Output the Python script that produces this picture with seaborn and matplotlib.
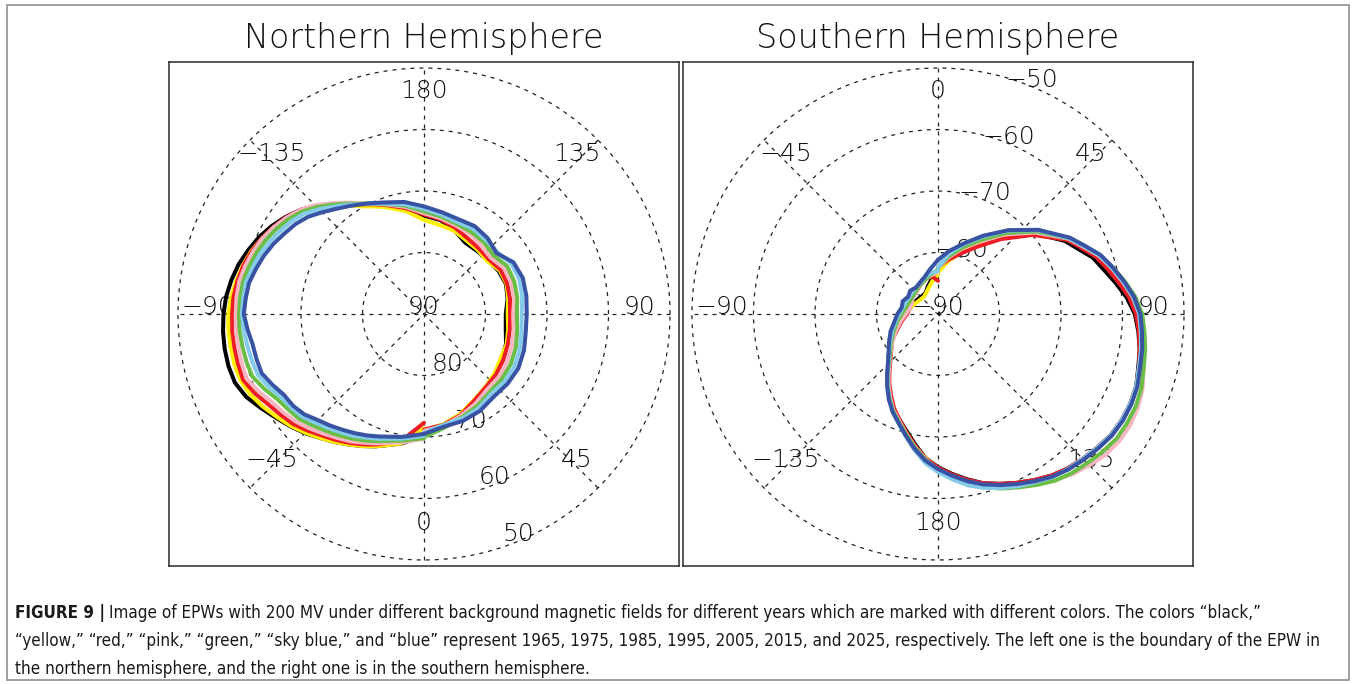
import os
import numpy as np
import pandas as pd
import matplotlib
matplotlib.use("Agg")
import matplotlib.pyplot as plt
from matplotlib import font_manager as fm
from matplotlib.patches import Rectangle
import seaborn as sns

sns.set_theme(style="white")
plt.rcParams["font.family"] = ["DejaVu Sans"]

W, H = 1356, 684

# ---------------------------------------------------------------- data
years = ["1965", "1975", "1985", "1995", "2005", "2015", "2025"]
year_colors = ["#000000", "#FFEE00", "#EE1C25", "#F7B6C2",
               "#6ABD45", "#84CBEB", "#3853A4"]

# magnetic longitude of each boundary sample (deg)
north_lon = list(range(0, 200, 10)) + list(range(200, 345, 5)) + [350, 360]
south_lon = list(range(0, 60, 10)) + list(range(60, 225, 5)) + list(range(230, 361, 10))

# Northern hemisphere: colatitude of the EPW boundary (90 - latitude, deg)
north_black = [19.0, 18.3, 17.4, 16.3, 15.6, 15.2, 14.6, 14.2, 13.5, 13.3,
               13.8, 14.2, 14.0, 13.6, 13.4, 13.4, 14.5, 15.5, 16.0, 17.4,
               18.8, 19.6, 20.5, 21.8, 23.3, 24.8, 26.3, 27.5, 28.6, 29.6,
               30.4, 31.2, 31.8, 32.3, 32.6, 32.8, 32.9, 32.9, 32.7, 31.9,
               30.6, 29.4, 28.4, 27.4, 26.3, 25.4, 24.5, 23.7, 22.9,
               21.4, 19.8]
north_yellow = [18.9, 18.2, 17.3, 16.2, 15.5, 15.0, 14.4, 14.3, 13.9, 13.6,
                13.9, 14.3, 14.2, 13.4, 13.6, 13.8, 14.4, 14.7, 15.3, 17.0,
                18.5, 19.3, 20.2, 21.6, 23.2, 24.7, 26.1, 27.2, 28.2, 29.1,
                29.9, 30.5, 31.0, 31.5, 31.8, 31.9, 31.9, 31.9, 31.7, 31.1,
                30.2, 29.2, 28.3, 27.3, 26.3, 25.4, 24.5, 23.7, 22.9,
                21.4, 18.6]
north_red = [18.8, 18.3, 17.5, 16.3, 15.6, 15.3, 14.9, 14.5, 14.2, 14.0,
             14.2, 14.4, 14.4, 13.8, 13.9, 14.2, 14.9, 15.6, 16.2, 17.5,
             18.9, 19.7, 20.6, 21.9, 23.4, 24.9, 26.3, 27.4, 28.3, 29.1,
             29.8, 30.4, 30.8, 31.1, 31.2, 31.3, 31.3, 31.3, 31.3, 30.4,
             29.3, 28.5, 27.8, 26.8, 25.8, 25.0, 24.2, 23.4, 22.6,
             20.9, 17.7]
north_pink = [19.0, 18.5, 17.6, 16.8, 16.0, 15.9, 15.6, 15.2, 14.8, 14.5,
              14.9, 15.1, 15.0, 14.2, 14.5, 15.0, 15.3, 15.8, 16.4, 17.7,
              19.0, 19.9, 20.8, 22.1, 23.5, 25.0, 26.3, 27.3, 28.2, 29.0,
              29.6, 30.1, 30.5, 30.6, 30.6, 30.7, 30.7, 30.7, 30.7, 29.7,
              28.6, 27.9, 27.2, 26.3, 25.4, 24.6, 23.9, 23.1, 22.4,
              21.2, 20.3]
north_green = [20.0, 18.8, 17.9, 17.3, 16.6, 16.5, 16.3, 15.9, 15.4, 15.1,
               15.4, 15.6, 15.6, 14.8, 15.2, 15.4, 15.6, 16.1, 16.7, 17.9,
               19.1, 19.9, 20.7, 21.9, 23.2, 24.6, 25.9, 26.9, 27.7, 28.4,
               29.0, 29.5, 29.9, 30.0, 30.1, 30.1, 30.0, 29.9, 29.7, 28.7,
               27.6, 27.0, 26.5, 25.6, 24.8, 24.1, 23.4, 22.7, 22.0,
               20.9, 20.2]
north_skyblue = [19.3, 18.3, 18.1, 17.7, 17.0, 17.1, 17.0, 16.6, 16.1, 15.9,
                 16.2, 16.5, 16.4, 15.6, 15.7, 16.0, 15.9, 16.4, 17.1, 18.1,
                 19.1, 19.8, 20.6, 21.7, 22.8, 24.1, 25.4, 26.3, 27.0, 27.7,
                 28.4, 28.9, 29.4, 29.5, 29.6, 29.4, 29.2, 29.0, 28.8, 27.9,
                 26.9, 26.4, 25.9, 25.0, 24.2, 23.5, 22.9, 22.2, 21.6,
                 20.6, 19.8]
north_blue = [19.5, 18.6, 18.5, 18.2, 17.6, 17.7, 17.7, 17.3, 16.8, 16.7,
              16.9, 17.1, 16.8, 15.4, 16.1, 16.5, 16.4, 16.8, 17.5, 18.5,
              19.3, 19.9, 20.6, 21.4, 22.3, 23.4, 24.6, 25.5, 26.2, 27.0,
              27.7, 28.3, 28.9, 29.1, 29.3, 28.8, 28.3, 28.2, 28.1, 27.2,
              26.3, 26.0, 25.4, 24.4, 23.7, 23.0, 22.4, 21.8, 21.2,
              20.3, 19.5]

# Southern hemisphere: colatitude of the EPW boundary (90 + latitude, deg)
south_black = [7.0, 8.7, 10.8, 13.4, 16.6, 20.4,
               23.8, 25.1, 26.8, 27.9, 29.3, 30.8, 32.0, 32.7, 33.3, 33.7, 34.3,
               34.5, 34.5, 34.3, 33.8, 33.3, 32.8, 32.1, 31.2, 30.3, 29.4, 28.5,
               27.3, 26.1, 24.9, 23.5, 21.5, 19.7, 18.3, 17.1, 15.6, 14.0, 12.5,
               10.5, 8.9, 7.6, 6.5, 5.5, 4.9, 4.5, 4.2, 4.0, 3.9, 4.0, 4.8, 5.8, 6.8]
south_yellow = [6.8, 8.6, 10.6, 13.0, 16.4, 20.3,
                24.2, 25.8, 27.5, 28.9, 30.2, 31.5, 32.5, 33.1, 33.5, 33.9, 34.4,
                34.6, 34.6, 34.4, 33.9, 33.4, 32.9, 32.2, 31.3, 30.4, 29.5, 28.6,
                27.5, 26.3, 25.1, 23.5, 21.8, 20.0, 18.4, 17.1, 15.6, 14.0, 12.5,
                10.2, 8.7, 7.4, 6.3, 5.4, 4.7, 4.3, 3.9, 3.7, 3.6, 3.9, 4.5, 5.4, 6.4]
south_red = [7.6, 8.9, 10.4, 12.6, 15.9, 20.0,
             24.2, 25.6, 27.3, 28.5, 29.8, 31.2, 32.2, 32.8, 33.3, 33.8, 34.3,
             34.5, 34.5, 34.3, 33.8, 33.3, 32.8, 32.1, 31.2, 30.3, 29.4, 28.5,
             27.4, 26.2, 25.0, 23.6, 21.7, 19.9, 18.3, 16.9, 15.3, 13.8, 12.3,
             10.0, 8.6, 7.0, 5.9, 5.0, 4.7, 4.7, 4.9, 5.0, 5.2, 5.6, 6.0, 6.3, 5.4]
south_pink = [7.4, 9.3, 11.3, 13.6, 16.9, 20.6,
              24.5, 26.0, 27.8, 29.2, 30.5, 31.8, 32.8, 33.3, 33.9, 34.6, 35.4,
              35.9, 36.1, 36.0, 35.6, 34.8, 34.0, 33.0, 31.9, 30.9, 29.9, 28.9,
              27.8, 26.5, 25.3, 23.7, 21.9, 20.1, 18.5, 17.2, 15.6, 14.0, 12.5,
              10.1, 8.5, 7.2, 6.1, 5.2, 4.7, 4.6, 4.8, 5.0, 5.3, 5.6, 6.0, 6.4, 6.8]
south_green = [7.6, 9.5, 11.5, 13.9, 17.2, 20.9,
               24.6, 26.2, 28.0, 29.4, 30.8, 32.2, 33.2, 33.7, 34.2, 34.6, 35.2,
               35.5, 35.5, 35.4, 34.9, 34.3, 33.8, 33.1, 32.1, 31.1, 30.2, 29.2,
               28.1, 26.7, 25.4, 23.8, 22.0, 20.2, 18.7, 17.3, 15.8, 14.2, 12.7,
               10.2, 8.8, 7.6, 6.7, 5.9, 5.4, 5.1, 5.0, 5.1, 5.3, 5.6, 6.0, 6.6, 7.2]
south_skyblue = [7.6, 9.9, 12.0, 14.5, 17.7, 21.2,
                 24.6, 26.1, 27.9, 29.2, 30.5, 31.8, 32.7, 33.1, 33.5, 33.8, 34.3,
                 34.5, 34.5, 34.3, 33.8, 33.3, 32.9, 32.4, 31.6, 30.9, 30.1, 29.3,
                 28.3, 27.0, 25.7, 24.3, 22.4, 20.5, 18.9, 17.5, 15.9, 14.3, 12.8,
                 10.4, 9.0, 7.9, 7.0, 6.3, 5.8, 5.6, 5.4, 5.5, 5.6, 5.8, 6.3, 6.8, 7.0]
south_blue = [8.8, 10.4, 12.2, 14.7, 17.8, 21.3,
              24.8, 26.3, 28.1, 29.4, 30.7, 32.0, 32.9, 33.3, 33.7, 34.0, 34.5,
              34.7, 34.7, 34.5, 34.0, 33.5, 33.0, 32.3, 31.4, 30.5, 29.6, 28.7,
              27.6, 26.4, 25.2, 23.9, 22.2, 20.4, 18.8, 17.5, 16.0, 14.4, 12.9,
              10.5, 9.2, 8.2, 7.2, 6.6, 6.0, 6.1, 5.6, 5.9, 5.6, 5.9, 6.4, 7.4, 8.8]

north_series = [north_black, north_yellow, north_red, north_pink,
                north_green, north_skyblue, north_blue]
south_series = [south_black, south_yellow, south_red, south_pink,
                south_green, south_skyblue, south_blue]

ring_colat = [0, 10, 20, 30, 40]
spoke_lon = [0, 45, 90, 135]
lon_tick_pos = [0, 45, 90, 135, 180, 225, 270, 315]
lon_tick_text = ["0", "45", "90", "135", "180", "\u2212135", "\u221290", "\u221245"]
north_lat_text = ["90", "80", "70", "60", "50"]
south_lat_text = ["\u221290", "\u221280", "\u221270", "\u221260", "\u221250"]
lat_label_lon = 22.5
lon_label_colat = 35.1

# ---------------------------------------------------------------- fonts
def _weight_num(w):
    if isinstance(w, (int, float)):
        return int(w)
    table = {"ultralight": 100, "extra light": 200, "extralight": 200, "light": 300,
             "normal": 400, "regular": 400, "book": 400, "medium": 500,
             "semibold": 600, "demibold": 600, "bold": 700, "heavy": 800, "black": 900}
    return table.get(str(w).lower(), 400)


def thin_weight(family):
    ws = [_weight_num(f.weight) for f in fm.fontManager.ttflist
          if f.name == family and f.style == "normal"]
    light = [w for w in ws if w < 400]
    return max(light) if light else "normal"


def narrow_file(bold):
    best = None
    for f in fm.fontManager.ttflist:
        label = (f.name + " " + os.path.basename(f.fname)).lower()
        if f.style != "normal":
            continue
        if "narrow" in label or "condensed" in label:
            if "mono" in label or ("serif" in label and "sans" not in label):
                continue
            score = abs(_weight_num(f.weight) - (700 if bold else 400))
            if best is None or score < best[0]:
                best = (score, f.fname)
    return best[1] if best else None


label_weight = thin_weight("DejaVu Sans")
label_font = dict(family="DejaVu Sans", weight=label_weight, color="#111111")

# ---------------------------------------------------------------- geometry
def project(lon, colat, south):
    lon = np.asarray(lon, dtype=float)
    colat = np.asarray(colat, dtype=float)
    theta = np.radians(90.0 - lon) if south else np.radians(lon - 90.0)
    return colat * np.cos(theta), colat * np.sin(theta)


grid_kw = dict(color="#222222", lw=0.9, linestyle=(0, (3.2, 4.0)), zorder=1)
XL, YL = 41.46, 40.98


def draw_panel(ax, lons, series, south, lat_text):
    t = np.linspace(0, 2 * np.pi, 721)
    for c in ring_colat[1:]:
        ax.plot(c * np.cos(t), c * np.sin(t), **grid_kw)
    for a in spoke_lon:
        x, y = project([a, a + 180], [ring_colat[-1], ring_colat[-1]], south)
        ax.plot(x, y, **grid_kw)

    for pos, txt in zip(lon_tick_pos, lon_tick_text):
        x, y = project(pos, lon_label_colat, south)
        ax.text(float(x), float(y), txt, ha="center", va="baseline",
                fontsize=18, zorder=2, **label_font)
    for c, txt in zip(ring_colat, lat_text):
        x, y = project(lat_label_lon, c, south)
        ax.text(float(x), float(y), txt, ha="center", va="baseline",
                fontsize=18, zorder=2, **label_font)

    frames = []
    for yr, vals in zip(years, series):
        x, y = project(lons, vals, south)
        frames.append(pd.DataFrame({"x": x, "y": y, "year": yr}))
    df = pd.concat(frames, ignore_index=True)
    sns.lineplot(data=df, x="x", y="y", hue="year", hue_order=years,
                 palette=year_colors, sort=False, estimator=None, legend=False,
                 linewidth=2.9, ax=ax, zorder=3)

    ax.set_xlim(-XL, XL)
    ax.set_ylim(-YL, YL)
    ax.set_xticks([])
    ax.set_yticks([])
    ax.set_xlabel("")
    ax.set_ylabel("")
    for s in ax.spines.values():
        s.set_visible(True)
        s.set_color("#2a2a2a")
        s.set_linewidth(1.1)


fig = plt.figure(figsize=(W / 100, H / 100), dpi=100)
fig.patch.set_facecolor("white")


def px_axes(x0, y0, x1, y1):
    return fig.add_axes([x0 / W, 1 - y1 / H, (x1 - x0) / W, (y1 - y0) / H])


ax_n = px_axes(169, 62, 679, 566)
ax_s = px_axes(683, 62, 1193, 566)
draw_panel(ax_n, north_lon, north_series, False, north_lat_text)
draw_panel(ax_s, south_lon, south_series, True, south_lat_text)

fig.text(424 / W, 1 - 48 / H, "Northern Hemisphere", ha="center", va="baseline",
         fontsize=24, **label_font)
fig.text(938 / W, 1 - 48 / H, "Southern Hemisphere", ha="center", va="baseline",
         fontsize=24, **label_font)

# outer frame of the figure
fig.patches.append(Rectangle((7 / W, 1 - 680 / H), (1349 - 7) / W, (680 - 5) / H,
                             transform=fig.transFigure, fill=False,
                             ec="#8f8f8f", lw=1.2, zorder=0))

# ---------------------------------------------------------------- caption
reg_file = narrow_file(False)
bold_file = narrow_file(True)


def cap_props(bold, size):
    f = bold_file if bold else reg_file
    if f:
        return fm.FontProperties(fname=f, size=size)
    return fm.FontProperties(family="Liberation Sans",
                             weight="bold" if bold else "normal", size=size)


cap_head = "FIGURE 9 |"
cap_line1 = ("Image of EPWs with 200 MV under different background magnetic fields for "
             "different years which are marked with different colors. The colors \u201cblack,\u201d")
cap_line2 = ("\u201cyellow,\u201d \u201cred,\u201d \u201cpink,\u201d \u201cgreen,\u201d "
             "\u201csky blue,\u201d and \u201cblue\u201d represent 1965, 1975, 1985, 1995, "
             "2005, 2015, and 2025, respectively. The left one is the boundary of the EPW in")
cap_line3 = "the northern hemisphere, and the right one is in the southern hemisphere."

renderer = fig.canvas.get_renderer()
x_left = 15
probe = fig.text(x_left / W, 1 - 646 / H, cap_line2, fontproperties=cap_props(False, 10),
                 ha="left", va="baseline", color="#1a1a1a")
w10 = probe.get_window_extent(renderer).width
cap_size = 10 * (1322 - x_left) / w10
probe.set_fontproperties(cap_props(False, cap_size))

head = fig.text(x_left / W, 1 - 618 / H, cap_head, fontproperties=cap_props(True, cap_size),
                ha="left", va="baseline", color="#1a1a1a")
head_end = head.get_window_extent(renderer).x1
fig.text((head_end + 0.28 * cap_size) / W, 1 - 618 / H, cap_line1,
         fontproperties=cap_props(False, cap_size), ha="left", va="baseline", color="#1a1a1a")
fig.text(x_left / W, 1 - 674 / H, cap_line3, fontproperties=cap_props(False, cap_size),
         ha="left", va="baseline", color="#1a1a1a")

fig.savefig("out.png", dpi=100, facecolor="white")
